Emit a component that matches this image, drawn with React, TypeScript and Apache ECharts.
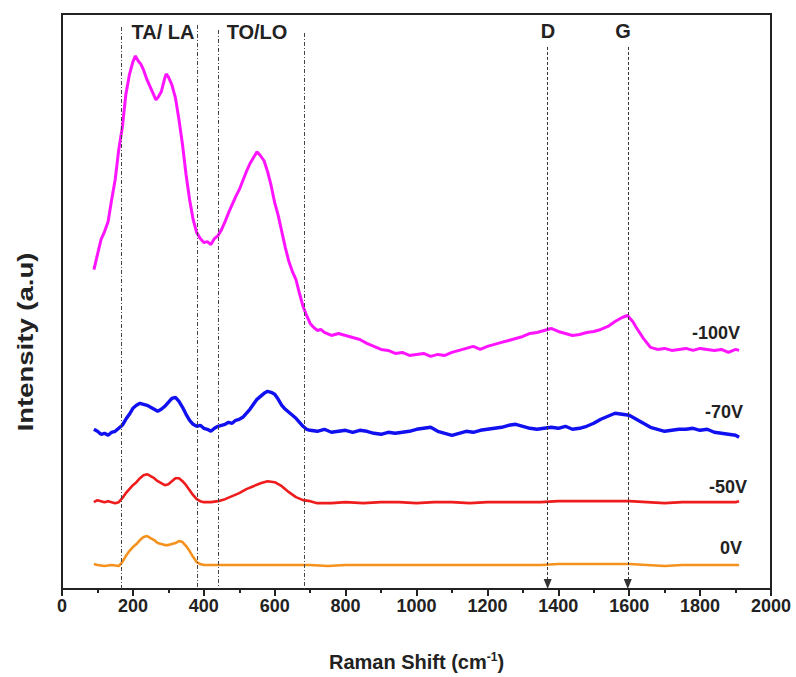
import React, { useEffect, useRef } from "react";
import * as echarts from "echarts";

// Raman spectra, [shift (cm-1), intensity (a.u.)], stacked with vertical offsets
const spec100V: [number, number][] = [
  [90, 320], [100, 335], [110, 350], [120, 358], [130, 368], [140, 390], [150, 410], [160, 440],
  [170, 462], [180, 495], [190, 515], [200, 528], [207, 534], [215, 529], [222, 526], [230, 520],
  [240, 510], [250, 502], [260, 494], [265, 490], [272, 493], [280, 498], [290, 512], [294, 516],
  [300, 513], [310, 505], [320, 492], [330, 470], [340, 445], [350, 415], [360, 390], [370, 370],
  [380, 357], [390, 351], [400, 347], [410, 348], [420, 345], [430, 351], [440, 354], [450, 360],
  [460, 368], [470, 377], [480, 385], [490, 393], [500, 400], [510, 409], [520, 418], [530, 426],
  [540, 432], [550, 438], [560, 434], [570, 429], [580, 418], [590, 404], [600, 387], [610, 374],
  [620, 358], [630, 342], [640, 328], [650, 318], [660, 310], [670, 296], [680, 283], [690, 274],
  [700, 266], [710, 262], [720, 259], [730, 260], [740, 257], [760, 254], [780, 256], [800, 254],
  [820, 252], [840, 250], [860, 246], [880, 243], [900, 240], [920, 239], [940, 236], [960, 237],
  [980, 234], [1000, 235], [1020, 236], [1040, 233], [1060, 235], [1080, 234], [1100, 237],
  [1120, 239], [1140, 241], [1160, 243], [1180, 240], [1200, 243], [1220, 245], [1240, 247],
  [1260, 249], [1280, 251], [1300, 253], [1320, 256], [1340, 257], [1360, 259], [1380, 261],
  [1400, 258], [1420, 256], [1440, 254], [1460, 255], [1480, 257], [1500, 258], [1520, 260],
  [1540, 263], [1560, 268], [1580, 272], [1595, 274], [1610, 268], [1620, 262], [1640, 251],
  [1660, 242], [1680, 240], [1700, 241], [1720, 239], [1740, 240], [1760, 241], [1780, 239],
  [1800, 241], [1820, 240], [1840, 239], [1860, 240], [1880, 237], [1900, 240], [1910, 239],
];

const spec70V: [number, number][] = [
  [90, 160], [100, 158], [110, 155], [120, 156], [130, 154], [140, 157], [150, 158], [160, 161],
  [170, 164], [180, 170], [190, 175], [200, 181], [210, 184], [220, 186], [230, 185], [240, 184],
  [250, 182], [260, 180], [270, 178], [280, 180], [290, 183], [300, 187], [310, 191], [320, 192],
  [330, 188], [340, 182], [350, 175], [360, 169], [370, 165], [380, 163], [390, 164], [400, 161],
  [410, 160], [420, 158], [430, 161], [440, 163], [450, 164], [460, 165], [470, 167], [480, 166],
  [490, 169], [500, 170], [510, 172], [520, 176], [530, 180], [540, 185], [550, 190], [560, 193],
  [570, 196], [580, 198], [590, 197], [600, 195], [610, 190], [620, 184], [630, 180], [640, 177],
  [650, 174], [660, 171], [670, 167], [680, 163], [690, 160], [700, 159], [720, 158], [740, 160],
  [760, 157], [780, 158], [800, 159], [820, 157], [840, 159], [860, 158], [880, 156], [900, 155],
  [920, 157], [940, 156], [960, 157], [980, 158], [1000, 160], [1020, 161], [1040, 162],
  [1060, 158], [1080, 156], [1100, 154], [1120, 156], [1140, 158], [1160, 157], [1180, 159],
  [1200, 160], [1220, 161], [1240, 162], [1260, 164], [1280, 165], [1300, 163], [1320, 161],
  [1340, 160], [1360, 161], [1380, 162], [1400, 161], [1420, 163], [1440, 160], [1460, 161],
  [1480, 163], [1500, 166], [1520, 170], [1540, 173], [1560, 176], [1580, 175], [1600, 174],
  [1620, 170], [1640, 166], [1660, 162], [1680, 160], [1700, 158], [1720, 159], [1740, 160],
  [1760, 160], [1780, 161], [1800, 159], [1820, 160], [1840, 157], [1860, 156], [1880, 155],
  [1900, 154], [1910, 152],
];

const spec50V: [number, number][] = [
  [90, 87], [100, 89], [110, 88], [120, 87], [130, 88], [140, 87], [150, 86], [160, 87],
  [170, 91], [180, 96], [190, 100], [200, 104], [210, 107], [220, 111], [230, 114], [240, 115],
  [250, 113], [260, 111], [270, 108], [280, 106], [290, 104], [300, 105], [310, 108], [320, 111],
  [330, 111], [340, 108], [350, 104], [360, 99], [370, 94], [380, 90], [390, 88], [400, 87],
  [420, 87], [440, 88], [460, 90], [480, 93], [500, 96], [520, 100], [540, 103], [560, 106],
  [580, 108], [600, 107], [620, 103], [640, 97], [660, 92], [680, 89], [700, 88], [720, 86],
  [740, 86], [760, 86], [800, 87], [850, 86], [900, 87], [950, 87], [1000, 86], [1050, 87],
  [1100, 87], [1150, 86], [1200, 87], [1250, 87], [1300, 87], [1350, 87], [1400, 88],
  [1450, 88], [1500, 88], [1550, 88], [1600, 88], [1650, 87], [1700, 86], [1750, 87],
  [1800, 87], [1850, 87], [1900, 87], [1910, 88],
];

const spec0V: [number, number][] = [
  [90, 25], [100, 24], [120, 23], [140, 24], [160, 23], [170, 27], [180, 33], [190, 38],
  [200, 42], [210, 45], [220, 49], [230, 52], [240, 53], [250, 51], [260, 49], [270, 46],
  [280, 45], [290, 44], [300, 44], [310, 45], [320, 46], [330, 48], [340, 47], [350, 43],
  [360, 38], [370, 32], [380, 27], [390, 25], [400, 24], [450, 24], [500, 24], [550, 24],
  [600, 24], [650, 24], [700, 24], [750, 23], [800, 24], [850, 24], [900, 24], [950, 24],
  [1000, 24], [1050, 24], [1100, 24], [1150, 24], [1200, 24], [1250, 24], [1300, 24],
  [1350, 24], [1400, 25], [1450, 25], [1500, 25], [1550, 25], [1600, 25], [1650, 24],
  [1700, 23], [1750, 24], [1800, 24], [1850, 24], [1900, 24], [1910, 24],
];

// Phonon band boundaries (TA/LA and TO/LO regions) and carbon D / G band positions
const bandEdges: [number, number][] = [[166, 563], [381, 565], [440, 560], [682, 557]];
const carbonBands: number[] = [1370, 1596];
const carbonTop = 543;

const seriesNames = ["-100V", "-70V", "-50V", "0V"];
const seriesColors = ["#ff14ff", "#1010f0", "#ee1c1c", "#f5921e"];
const seriesWidths = [3, 3.4, 2.6, 2.6];

export default function App() {
  const ref = useRef<HTMLDivElement>(null);

  useEffect(() => {
    if (!ref.current) return;
    const chart = echarts.init(ref.current, null, { renderer: "svg" });
    const spectra = [spec100V, spec70V, spec50V, spec0V];
    const family = "'Liberation Sans', Arial, sans-serif";
    const ink = "#222";

    const bandLines = bandEdges.map(([x, top]) => [
      { coord: [x, top], symbol: "none" },
      { coord: [x, 0], symbol: "none" },
    ]);
    const dgLines = carbonBands.map((x) => [
      { coord: [x, carbonTop], symbol: "none" },
      { coord: [x, 5], symbol: "triangle", symbolSize: [8, 10] },
    ]);

    const label = (text: string, x: number, y: number, size: number) => ({
      type: "text",
      x,
      y,
      style: { text, font: `bold ${size}px ${family}`, fill: ink, align: "center", verticalAlign: "middle" },
    });

    chart.setOption({
      animation: false,
      backgroundColor: "#ffffff",
      grid: {
        left: 62,
        right: 25,
        top: 14,
        bottom: 87,
        show: true,
        borderColor: ink,
        borderWidth: 2,
      },
      xAxis: {
        type: "value",
        min: 0,
        max: 2000,
        interval: 200,
        name: "Raman Shift (cm{sup|-1})",
        nameLocation: "middle",
        nameGap: 62,
        nameTextStyle: {
          fontFamily: family,
          fontWeight: "bold",
          fontSize: 20,
          color: ink,
          rich: {
            sup: { fontFamily: family, fontWeight: "bold", fontSize: 12, color: ink, verticalAlign: "top", padding: [0, 0, 10, 0] },
          },
        },
        axisLine: { show: true, lineStyle: { color: ink, width: 2 } },
        axisTick: { show: true, length: 7, lineStyle: { color: ink, width: 2 } },
        minorTick: { show: true, splitNumber: 2, length: 4, lineStyle: { color: ink, width: 2 } },
        axisLabel: {
          fontFamily: family,
          fontWeight: "bold",
          fontSize: 18,
          color: ink,
          margin: 8,
          formatter: (v: number) => String(v),
        },
        splitLine: { show: false },
      },
      yAxis: {
        type: "value",
        min: 0,
        max: 576,
        axisLine: { show: true, lineStyle: { color: ink, width: 2 } },
        axisTick: { show: false },
        axisLabel: { show: false },
        splitLine: { show: false },
      },
      series: [
        ...spectra.map((d, i) => ({
          name: seriesNames[i],
          type: "line",
          data: d,
          showSymbol: false,
          lineStyle: { color: seriesColors[i], width: seriesWidths[i] },
          z: 3,
        })),
        {
          type: "line",
          data: [],
          silent: true,
          markLine: {
            silent: true,
            animation: false,
            symbol: "none",
            label: { show: false },
            lineStyle: { color: "#444", width: 1, type: [4, 2, 1, 2] },
            data: bandLines,
          },
        },
        {
          type: "line",
          data: [],
          silent: true,
          markLine: {
            silent: true,
            animation: false,
            label: { show: false },
            lineStyle: { color: "#333", width: 1, type: [3, 2] },
            data: dgLines,
          },
        },
      ],
      graphic: [
        label("TA/ LA", 163, 32, 20),
        label("TO/LO", 257, 32, 20),
        label("D", 548, 31, 20),
        label("G", 623, 31, 20),
        label(seriesNames[0], 716, 333, 18),
        label(seriesNames[1], 724, 412, 18),
        label(seriesNames[2], 728, 487, 18),
        label(seriesNames[3], 731, 548, 18),
        {
          type: "text",
          x: 25,
          y: 342,
          rotation: Math.PI / 2,
          scaleX: 1.25,
          style: {
            text: "Intensity (a.u)",
            font: `bold 22px ${family}`,
            fill: ink,
            align: "center",
            verticalAlign: "middle",
          },
        },
      ],
    });

    return () => chart.dispose();
  }, []);

  return (
    <div
      ref={ref}
      style={{ position: "fixed", left: 0, top: 0, width: 796, height: 677, background: "#fff" }}
    />
  );
}
